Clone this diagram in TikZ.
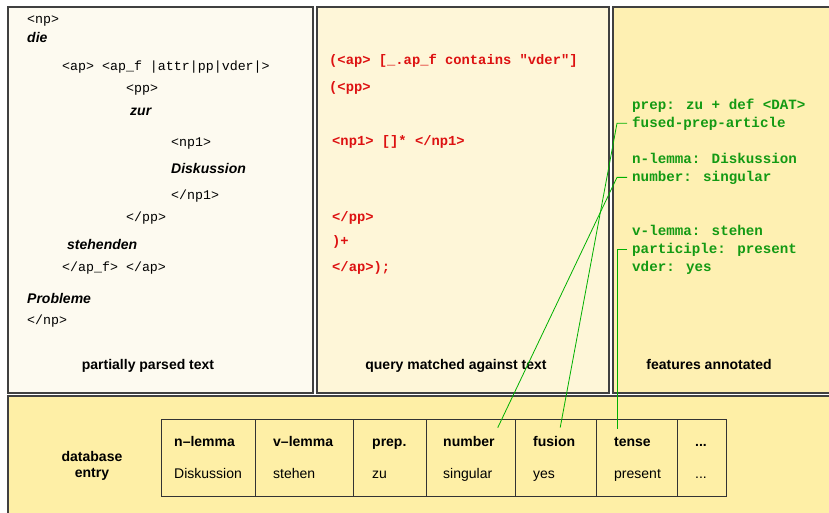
\documentclass[tikz,border=0pt]{standalone}
\usepackage{fontspec}
\setmainfont{Liberation Sans}
\newfontfamily\courfont{Liberation Mono}
\usetikzlibrary{calc}
\definecolor{paneLeft}{HTML}{FDFAF0}
\definecolor{paneMid}{HTML}{FEF6D8}
\definecolor{paneRight}{HTML}{FEF0B2}
\definecolor{paneBase}{HTML}{FEEFA6}
\definecolor{qryColor}{HTML}{DD1111}
\definecolor{featColor}{HTML}{139A13}
\definecolor{linkColor}{HTML}{00B000}
\tikzset{
	panel/.style={draw=black!75, line width=1.2pt},
	tag/.style={anchor=base west, inner sep=0pt, font=\fontsize{13.3}{16}\selectfont\courfont},
	word/.style={anchor=base west, inner sep=0pt, font=\fontsize{14}{16}\selectfont\bfseries\itshape},
	qry/.style={anchor=base west, inner sep=0pt, text=qryColor, font=\fontsize{13.8}{16}\selectfont\courfont\bfseries},
	feat/.style={anchor=base west, inner sep=0pt, text=featColor, font=\fontsize{14.2}{16}\selectfont\courfont\bfseries},
	caption/.style={anchor=base, inner sep=0pt, font=\fontsize{14}{16}\selectfont\bfseries},
	cell/.style={draw=black!80, line width=1pt, anchor=north west, minimum height=77pt, inner sep=0pt},
	head/.style={anchor=base west, inner sep=0pt, font=\fontsize{14}{16}\selectfont\bfseries},
	val/.style={anchor=base west, inner sep=0pt, font=\fontsize{14}{16}\selectfont},
	link/.style={draw=linkColor, line width=0.8pt}
}
\begin{document}
\begin{tikzpicture}[x=1pt, y=-1pt]
	\useasboundingbox (0,0) rectangle (829,512);
	\clip (0,0) rectangle (829,512);
	
	% panels
	\draw[panel, fill=paneLeft] (8,7) rectangle (313,393);
	\draw[panel, fill=paneMid] (317,7) rectangle (609,393);
	\draw[panel, fill=paneRight] (613,7) rectangle (845,393);
	\draw[panel, fill=paneBase] (8,396) rectangle (845,525);
	
	% partially parsed text
	\node[tag] (np) at (27,23) {<np>};
	\node[word] (die) at (27,42) {die};
	\node[tag] (ap) at (62,70) {<ap> <ap\_f |attr|pp|vder|>};
	\node[tag] (pp) at (126,92) {<pp>};
	\node[word] (zur) at (130,115) {zur};
	\node[tag] (npa) at (171,146) {<np1>};
	\node[word] (disk) at (171,173) {Diskussion};
	\node[tag] (npaend) at (171,199) {</np1>};
	\node[tag] (ppend) at (126,221) {</pp>};
	\node[word] (steh) at (67,249) {stehenden};
	\node[tag] (apend) at (62,271) {</ap\_f> </ap>};
	\node[word] (probl) at (27,303) {Probleme};
	\node[tag] (npend) at (27,324) {</np>};
	\node[caption] (capleft) at (148,369) {partially parsed text};
	
	% query
	\node[qry] (qap) at (329,64) {(<ap> [\_.ap\_f contains "vder"]};
	\node[qry] (qpp) at (329,91) {(<pp>};
	\node[qry] (qnp) at (332,145) {<np1> []* </np1>};
	\node[qry] (qppend) at (332,221) {</pp>};
	\node[qry] (qplus) at (332,245) {)+};
	\node[qry] (qapend) at (332,271) {</ap>);};
	\node[caption] (capmid) at (456,369) {query matched against text};
	
	% features
	\node[feat] (fprep) at (632,109) {prep: zu + def <DAT>};
	\node[feat] (ffused) at (632,127) {fused-prep-article};
	\node[feat] (fnlem) at (632,163) {n-lemma: Diskussion};
	\node[feat] (fnum) at (632,181) {number: singular};
	\node[feat] (fvlem) at (632,235) {v-lemma: stehen};
	\node[feat] (fpart) at (632,253) {participle: present};
	\node[feat] (fvder) at (632,271) {vder: yes};
	\node[caption] (capright) at (709,369) {features annotated};
	
	% database entry
	\node[caption] (dba) at (92,461) {database};
	\node[caption] (dbb) at (92,477) {entry};
	
	\node[cell, minimum width=94pt] (c1) at (161,419) {};
	\node[cell, minimum width=98pt] (c2) at (255,419) {};
	\node[cell, minimum width=73pt] (c3) at (353,419) {};
	\node[cell, minimum width=89pt] (c4) at (426,419) {};
	\node[cell, minimum width=81pt] (c5) at (515,419) {};
	\node[cell, minimum width=81pt] (c6) at (596,419) {};
	\node[cell, minimum width=49pt] (c7) at (677,419) {};
	
	\node[head] (hnlem) at (174,446) {n--lemma};
	\node[val] (vnlem) at (174,478) {Diskussion};
	\node[head] (hvlem) at (273,446) {v--lemma};
	\node[val] (vvlem) at (273,478) {stehen};
	\node[head] (hprep) at (372,446) {prep.};
	\node[val] (vprep) at (372,478) {zu};
	\node[head] (hnumber) at (443,446) {number};
	\node[val] (vnumber) at (443,478) {singular};
	\node[head] (hfusion) at (533,446) {fusion};
	\node[val] (vfusion) at (533,478) {yes};
	\node[head] (htense) at (614,446) {tense};
	\node[val] (vtense) at (614,478) {present};
	\node[head] (hmore) at (695,446) {...};
	\node[val] (vmore) at (695,478) {...};
	
	% links from features to entry
	\draw[link] ([xshift=-5pt]ffused.west) -- ++(-10,0) -- ($(hfusion.north)+(6,-8)$);
	\draw[link] ([xshift=-5pt]fnum.west) -- ++(-10,0) -- ($(hnumber.north east)+(3,-8)$);
	\draw[link] ([xshift=-5pt]fpart.west) -- ++(-10,0) coordinate (kpart) -- ($(kpart |- htense.north)+(0,-8)$);
\end{tikzpicture}
\end{document}
